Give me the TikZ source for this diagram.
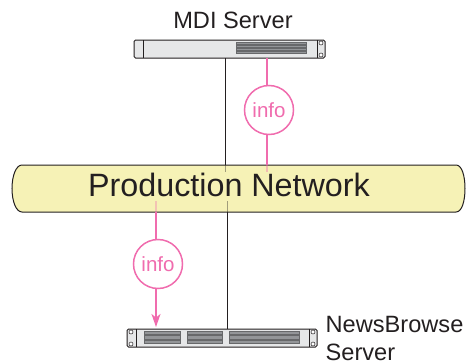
\documentclass[tikz,border=0pt]{standalone}
\usepackage{fontspec}
\setmainfont{Liberation Sans}
\usetikzlibrary{arrows.meta}
\definecolor{infopink}{HTML}{F06CAE}
\definecolor{netyellow}{HTML}{F6F2B6}
\definecolor{rackgrey}{HTML}{E6E7E8}
\definecolor{ventgrey}{HTML}{939598}
\definecolor{inkgrey}{HTML}{231F20}
\tikzset{
  server/.style={draw=inkgrey,line width=1pt,fill=rackgrey,rounded corners=1.5pt,inner sep=0pt},
  info/.style={circle,draw=infopink,line width=1.5pt,fill=white,minimum size=49pt,inner sep=0pt,text=infopink,font=\fontsize{20.5}{24}\selectfont},
  label/.style={inner sep=0pt,text=inkgrey,font=\fontsize{23.6}{28}\selectfont},
  wire/.style={draw=inkgrey,line width=1pt},
  infowire/.style={draw=infopink,line width=1.2pt},
}
\begin{document}
\begin{tikzpicture}[x=1pt,y=-1pt]
  \useasboundingbox (0,0) rectangle (466,364);
  % Netzwerk
  \draw[draw=inkgrey,line width=1pt,fill=netyellow] (22,165) -- (456,165)
    .. controls (462,165) and (465,176) .. (465,188.5)
    .. controls (465,201) and (462,212) .. (456,212) -- (22,212)
    .. controls (16,212) and (12,201) .. (12,188.5)
    .. controls (12,176) and (16,165) .. (22,165);
  \node[anchor=base,inner sep=0pt,text=inkgrey,font=\fontsize{32.3}{36}\selectfont] (network) at (229,196) {Production Network};
  % Server
  \node[server,minimum width=191pt,minimum height=18pt] (mdi) at (229.5,49) {};
  \node[server,minimum width=190pt,minimum height=18pt] (news) at (222,338) {};
  \node[label,anchor=base] (mdilabel) at (233,28) {MDI Server};
  \node[label,anchor=base west] (newslabel) at (325.5,332) {NewsBrowse};
  \node[label,anchor=base west] (newslabelb) at (325.5,360.5) {Server};
  % Ohren und Schrauben
  \draw[inkgrey,line width=0.5pt] (143,40) -- (143,58);
  \draw[inkgrey,line width=0.5pt] (317,40) -- (317,58);
  \draw[inkgrey,line width=0.5pt] (136,329) -- (136,347);
  \draw[inkgrey,line width=0.5pt] (309,329) -- (309,347);
  \foreach \x/\y in {321/43, 321/55, 131/332, 131/344, 313/332, 313/344}
    \draw[inkgrey,line width=0.5pt,fill=white] (\x,\y) circle (2);
  % Lueftung
  \foreach \l/\r in {236/306}
    \foreach \y in {42, 45, 48, 51}
      \draw[ventgrey!70!black,line width=0.3pt,fill=ventgrey] (\l,\y) rectangle (\r,\y+2.5);
  \foreach \l/\r in {144/180, 187/222, 229/299}
    \foreach \y in {331, 335.5, 340}
      \draw[ventgrey!70!black,line width=0.3pt,fill=ventgrey] (\l,\y) rectangle (\r,\y+3.4);
  % Info-Kreise
  \node[info] (infotop) at (269,110) {info};
  \node[info] (infobottom) at (158,264) {info};
  % Verbindungen
  \coordinate (mditap) at (225,58);
  \coordinate (nettop) at (225,165);
  \coordinate (netstub) at (225,172);
  \coordinate (newstap) at (227,329);
  \coordinate (netbottom) at (227,212);
  \coordinate (netstubb) at (227,201);
  \coordinate (mdipink) at (267,58);
  \coordinate (nettoppink) at (267,165);
  \coordinate (netstubpink) at (267,172);
  \coordinate (netbottompink) at (156,212);
  \coordinate (netstubpinkb) at (156,201);
  \coordinate (newspink) at (156,327);
  \draw[wire] (mditap) -- (nettop);
  \draw[wire,draw opacity=0.4] (nettop) -- (netstub);
  \draw[wire] (netbottom) -- (newstap);
  \draw[wire,draw opacity=0.4] (netstubb) -- (netbottom);
  \draw[infowire] (mdipink) -- (mdipink |- infotop.north);
  \draw[infowire] (nettoppink |- infotop.south) -- (nettoppink);
  \draw[infowire,draw opacity=0.4] (nettoppink) -- (netstubpink);
  \draw[infowire,draw opacity=0.35] (netstubpinkb) -- (netbottompink);
  \draw[infowire] (netbottompink) -- (netbottompink |- infobottom.north);
  \draw[infowire,-{Stealth[length=13pt,width=9pt,inset=3.5pt]}] (newspink |- infobottom.south) -- (newspink);
\end{tikzpicture}
\end{document}
